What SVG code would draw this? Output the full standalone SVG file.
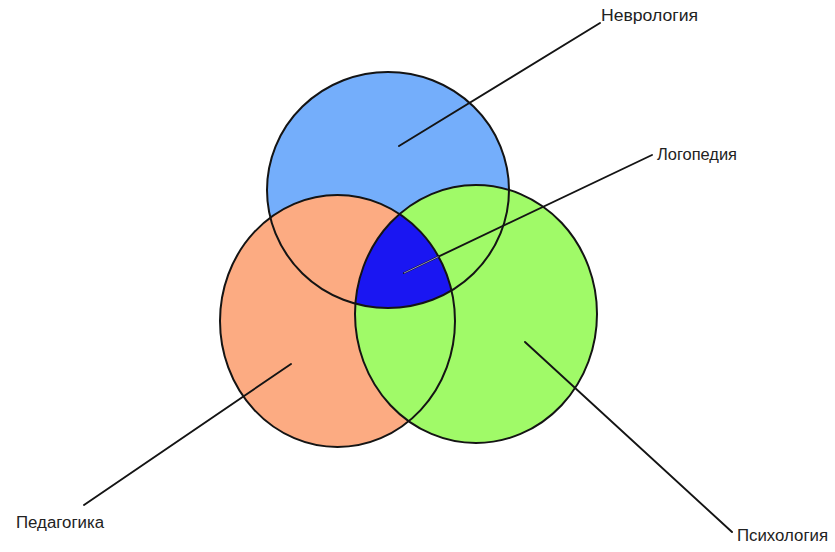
<svg xmlns="http://www.w3.org/2000/svg" width="835" height="552" viewBox="0 0 835 552">
  <style>
    .set { stroke: none; }
    .rim { fill: none; stroke: #141414; stroke-width: 2; }
    .lead { stroke: #141414; stroke-width: 1.9; fill: none; stroke-linecap: round; }
    .lbl { font-family: "Liberation Sans", Arial, sans-serif; font-size: 16px; fill: #222; }
  </style>
  <defs>
    <clipPath id="clipNeuro"><ellipse cx="388" cy="190" rx="121" ry="118"/></clipPath>
    <clipPath id="clipPed"><ellipse cx="337.5" cy="321" rx="117.5" ry="126"/></clipPath>
  </defs>
  <rect width="835" height="552" fill="#ffffff"/>

  <!-- set fills, back to front -->
  <g id="neurology">
    <ellipse class="set" cx="388" cy="190" rx="121" ry="118" fill="#74aefb"/>
  </g>
  <g id="pedagogy">
    <ellipse class="set" cx="337.5" cy="321" rx="117.5" ry="126" fill="#fcab82"/>
  </g>
  <g id="psychology">
    <ellipse class="set" cx="476" cy="314" rx="121" ry="129" fill="#a0fa68"/>
  </g>
  <!-- common part of all three sets -->
  <g id="speech-therapy">
    <g clip-path="url(#clipNeuro)">
      <g clip-path="url(#clipPed)">
        <ellipse cx="476" cy="314" rx="121" ry="129" fill="#1a16f2"/>
      </g>
    </g>
  </g>

  <!-- outlines -->
  <g id="outlines">
    <ellipse class="rim" cx="388" cy="190" rx="121" ry="118"/>
    <ellipse class="rim" cx="337.5" cy="321" rx="117.5" ry="126"/>
    <ellipse class="rim" cx="476" cy="314" rx="121" ry="129"/>
  </g>

  <!-- leader lines -->
  <g id="connectors">
    <line class="lead" x1="399" y1="146" x2="600" y2="23"/>
    <line class="lead" x1="404" y1="273" x2="652" y2="155"/>
    <line class="lead" x1="291" y1="364" x2="84" y2="505"/>
    <line class="lead" x1="525" y1="342" x2="732" y2="532"/>
    <g clip-path="url(#clipNeuro)">
      <g clip-path="url(#clipPed)">
        <line x1="404" y1="273" x2="460" y2="246.4" stroke="#b4b4ee" stroke-width="0.8"/>
      </g>
    </g>
  </g>

  <!-- labels -->
  <g id="labels">
    <text class="lbl" x="601" y="21" textLength="97" lengthAdjust="spacingAndGlyphs">Неврология</text>
    <text class="lbl" x="657" y="160" textLength="80" lengthAdjust="spacingAndGlyphs">Логопедия</text>
    <text class="lbl" x="16" y="528" textLength="88" lengthAdjust="spacingAndGlyphs">Педагогика</text>
    <text class="lbl" x="737" y="541" textLength="91" lengthAdjust="spacingAndGlyphs">Психология</text>
  </g>
</svg>
